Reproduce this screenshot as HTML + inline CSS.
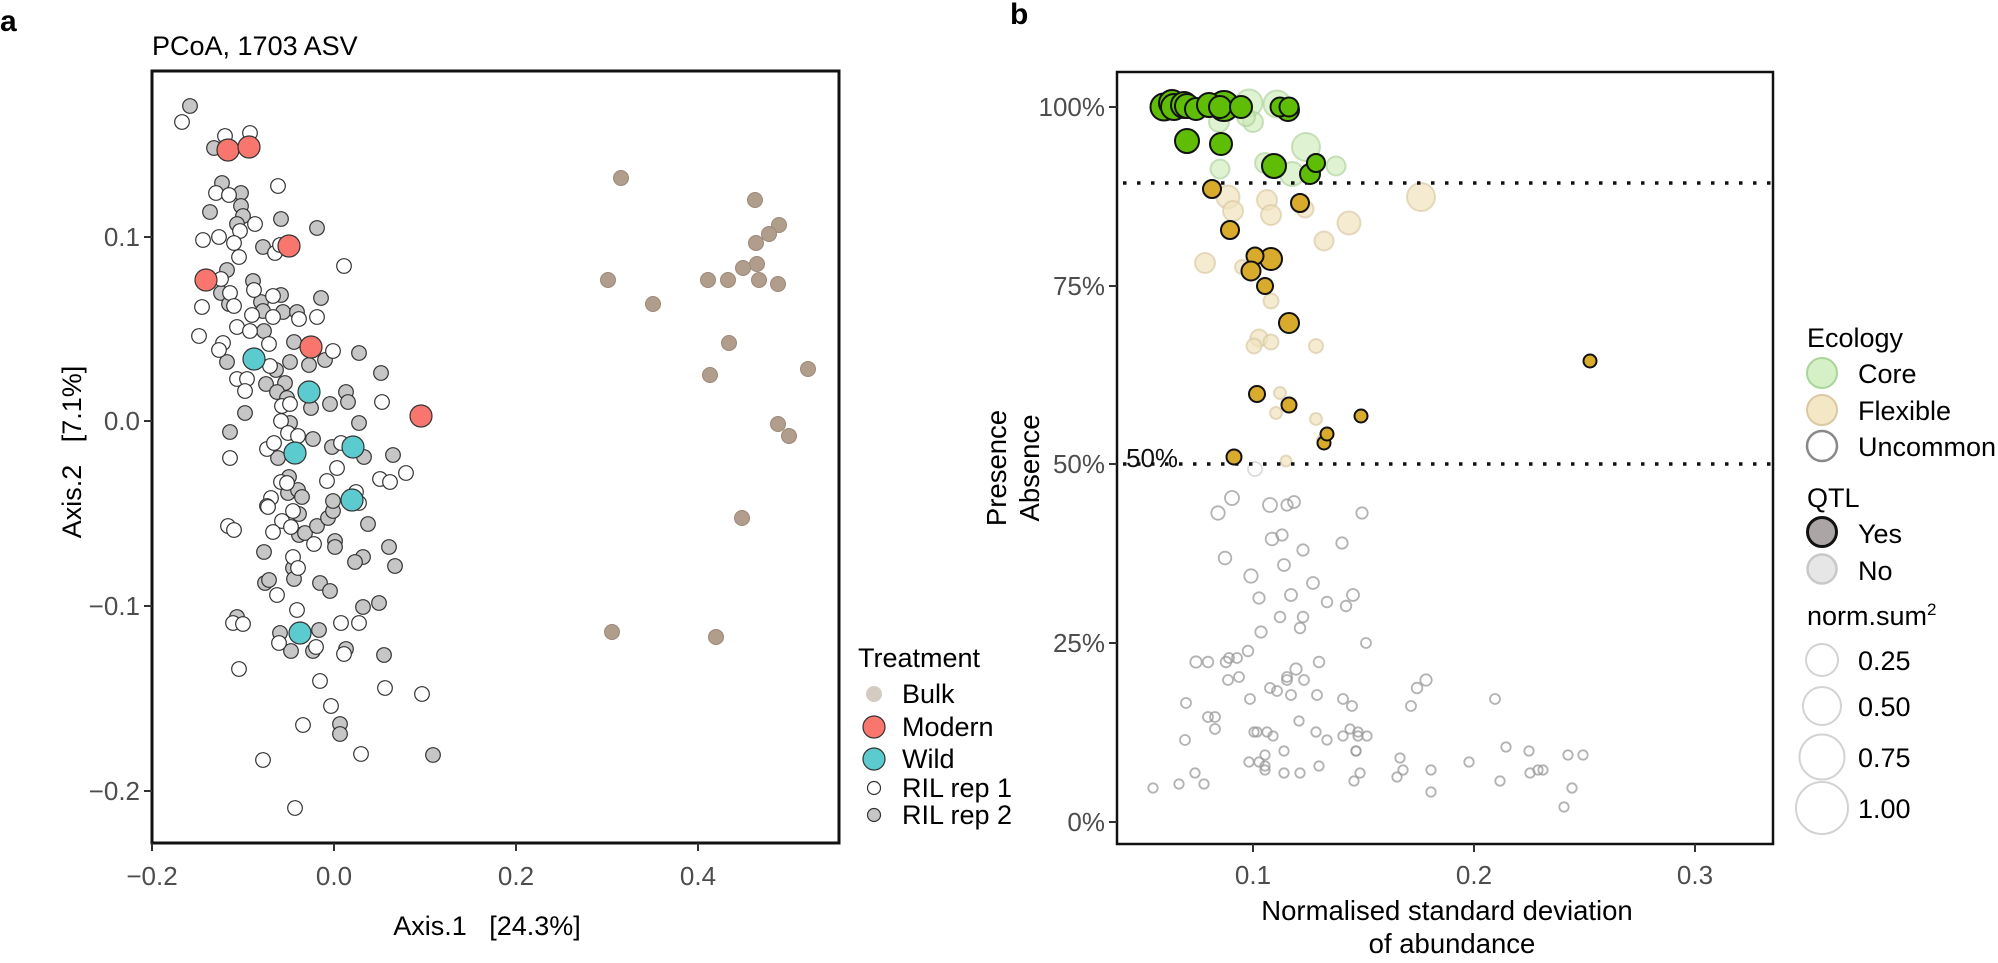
<!DOCTYPE html>
<html><head><meta charset="utf-8"><style>
html,body{margin:0;padding:0;background:#fff}
svg{display:block}
text{font-family:"Liberation Sans",Arial,sans-serif}
</style></head><body>
<svg width="1998" height="963" viewBox="0 0 1998 963" xmlns="http://www.w3.org/2000/svg">
<rect width="1998" height="963" fill="#fff"/>
<!-- Panel labels -->
<text x="0" y="31" font-size="30" font-weight="bold">a</text>
<text x="1010" y="24" font-size="30" font-weight="bold">b</text>
<text x="152" y="55" font-size="27">PCoA, 1703 ASV</text>

<!-- ===== Panel a ===== -->
<g fill="#c5c6c5" stroke="#333" stroke-width="1.2">
<circle cx="190" cy="106" r="7.3"/><circle cx="214" cy="148" r="7.3"/><circle cx="222" cy="183" r="7.3"/><circle cx="241" cy="193" r="7.3"/><circle cx="210" cy="212" r="7.3"/><circle cx="241" cy="206" r="7.3"/><circle cx="243" cy="216" r="7.3"/><circle cx="237" cy="224" r="7.3"/><circle cx="281" cy="219" r="7.3"/><circle cx="317" cy="228" r="7.3"/><circle cx="263" cy="247" r="7.3"/><circle cx="227" cy="270" r="7.3"/><circle cx="253" cy="281" r="7.3"/><circle cx="221" cy="293" r="7.3"/><circle cx="229" cy="304" r="7.3"/><circle cx="261" cy="302" r="7.3"/><circle cx="281" cy="295" r="7.3"/><circle cx="321" cy="298" r="7.3"/><circle cx="263" cy="311" r="7.3"/><circle cx="283" cy="312" r="7.3"/><circle cx="297" cy="312" r="7.3"/><circle cx="264" cy="331" r="7.3"/><circle cx="294" cy="342" r="7.3"/><circle cx="359" cy="353" r="7.3"/><circle cx="227" cy="362" r="7.3"/><circle cx="276" cy="370" r="7.3"/><circle cx="290" cy="362" r="7.3"/><circle cx="309" cy="365" r="7.3"/><circle cx="325" cy="360" r="7.3"/><circle cx="381" cy="373" r="7.3"/><circle cx="266" cy="384" r="7.3"/><circle cx="285" cy="383" r="7.3"/><circle cx="277" cy="392" r="7.3"/><circle cx="287" cy="398" r="7.3"/><circle cx="311" cy="408" r="7.3"/><circle cx="330" cy="404" r="7.3"/><circle cx="346" cy="392" r="7.3"/><circle cx="348" cy="402" r="7.3"/><circle cx="245" cy="413" r="7.3"/><circle cx="230" cy="432" r="7.3"/><circle cx="359" cy="423" r="7.3"/><circle cx="290" cy="423" r="7.3"/><circle cx="313" cy="439" r="7.3"/><circle cx="332" cy="447" r="7.3"/><circle cx="364" cy="457" r="7.3"/><circle cx="393" cy="455" r="7.3"/><circle cx="278" cy="458" r="7.3"/>
<circle cx="289" cy="477" r="7.3"/><circle cx="288" cy="493" r="7.3"/><circle cx="298" cy="490" r="7.3"/><circle cx="302" cy="497" r="7.3"/><circle cx="299" cy="514" r="7.3"/><circle cx="299" cy="535" r="7.3"/><circle cx="305" cy="533" r="7.3"/><circle cx="317" cy="526" r="7.3"/><circle cx="328" cy="518" r="7.3"/><circle cx="333" cy="511" r="7.3"/><circle cx="333" cy="501" r="7.3"/><circle cx="368" cy="524" r="7.3"/><circle cx="335" cy="541" r="7.3"/><circle cx="335" cy="547" r="7.3"/><circle cx="389" cy="547" r="7.3"/><circle cx="264" cy="552" r="7.3"/><circle cx="293" cy="568" r="7.3"/><circle cx="294" cy="579" r="7.3"/><circle cx="363" cy="557" r="7.3"/><circle cx="355" cy="562" r="7.3"/><circle cx="395" cy="566" r="7.3"/><circle cx="265" cy="583" r="7.3"/><circle cx="269" cy="580" r="7.3"/><circle cx="320" cy="583" r="7.3"/><circle cx="330" cy="591" r="7.3"/><circle cx="363" cy="607" r="7.3"/><circle cx="379" cy="603" r="7.3"/><circle cx="237" cy="617" r="7.3"/><circle cx="280" cy="633" r="7.3"/><circle cx="319" cy="630" r="7.3"/><circle cx="291" cy="651" r="7.3"/><circle cx="313" cy="651" r="7.3"/><circle cx="346" cy="649" r="7.3"/><circle cx="384" cy="655" r="7.3"/><circle cx="340" cy="724" r="7.3"/><circle cx="340" cy="734" r="7.3"/><circle cx="433" cy="755" r="7.3"/>
</g>
<g fill="#fff" stroke="#333" stroke-width="1.2">
<circle cx="182" cy="122" r="7.3"/><circle cx="225" cy="136" r="7.3"/><circle cx="250" cy="133" r="7.3"/><circle cx="216" cy="193" r="7.3"/><circle cx="229" cy="195" r="7.3"/><circle cx="278" cy="186" r="7.3"/><circle cx="255" cy="224" r="7.3"/><circle cx="240" cy="231" r="7.3"/><circle cx="203" cy="240" r="7.3"/><circle cx="219" cy="237" r="7.3"/><circle cx="234" cy="243" r="7.3"/><circle cx="239" cy="257" r="7.3"/><circle cx="275" cy="253" r="7.3"/><circle cx="280" cy="245" r="7.3"/><circle cx="344" cy="266" r="7.3"/><circle cx="221" cy="279" r="7.3"/><circle cx="254" cy="290" r="7.3"/><circle cx="230" cy="293" r="7.3"/><circle cx="234" cy="306" r="7.3"/><circle cx="202" cy="307" r="7.3"/><circle cx="273" cy="296" r="7.3"/><circle cx="252" cy="315" r="7.3"/><circle cx="273" cy="317" r="7.3"/><circle cx="299" cy="319" r="7.3"/><circle cx="317" cy="317" r="7.3"/><circle cx="237" cy="327" r="7.3"/><circle cx="250" cy="331" r="7.3"/><circle cx="199" cy="336" r="7.3"/><circle cx="223" cy="343" r="7.3"/><circle cx="219" cy="350" r="7.3"/><circle cx="269" cy="344" r="7.3"/><circle cx="333" cy="351" r="7.3"/><circle cx="270" cy="366" r="7.3"/><circle cx="237" cy="379" r="7.3"/><circle cx="247" cy="379" r="7.3"/><circle cx="245" cy="391" r="7.3"/><circle cx="282" cy="406" r="7.3"/><circle cx="290" cy="404" r="7.3"/><circle cx="382" cy="402" r="7.3"/><circle cx="281" cy="421" r="7.3"/><circle cx="288" cy="433" r="7.3"/><circle cx="298" cy="436" r="7.3"/><circle cx="267" cy="449" r="7.3"/><circle cx="274" cy="443" r="7.3"/><circle cx="341" cy="443" r="7.3"/><circle cx="230" cy="458" r="7.3"/>
<circle cx="337" cy="468" r="7.3"/><circle cx="327" cy="481" r="7.3"/><circle cx="380" cy="479" r="7.3"/><circle cx="390" cy="482" r="7.3"/><circle cx="406" cy="473" r="7.3"/><circle cx="281" cy="482" r="7.3"/><circle cx="287" cy="483" r="7.3"/><circle cx="271" cy="498" r="7.3"/><circle cx="267" cy="506" r="7.3"/><circle cx="268" cy="507" r="7.3"/><circle cx="293" cy="511" r="7.3"/><circle cx="282" cy="521" r="7.3"/><circle cx="291" cy="527" r="7.3"/><circle cx="273" cy="532" r="7.3"/><circle cx="356" cy="492" r="7.3"/><circle cx="359" cy="503" r="7.3"/><circle cx="228" cy="526" r="7.3"/><circle cx="234" cy="530" r="7.3"/><circle cx="314" cy="544" r="7.3"/><circle cx="293" cy="557" r="7.3"/><circle cx="298" cy="568" r="7.3"/><circle cx="277" cy="595" r="7.3"/><circle cx="297" cy="610" r="7.3"/><circle cx="233" cy="623" r="7.3"/><circle cx="243" cy="624" r="7.3"/><circle cx="341" cy="623" r="7.3"/><circle cx="359" cy="623" r="7.3"/><circle cx="279" cy="643" r="7.3"/><circle cx="316" cy="647" r="7.3"/><circle cx="344" cy="654" r="7.3"/><circle cx="239" cy="669" r="7.3"/><circle cx="320" cy="681" r="7.3"/><circle cx="385" cy="688" r="7.3"/><circle cx="422" cy="694" r="7.3"/><circle cx="331" cy="706" r="7.3"/><circle cx="303" cy="725" r="7.3"/><circle cx="263" cy="760" r="7.3"/><circle cx="361" cy="754" r="7.3"/><circle cx="295" cy="808" r="7.3"/>
</g>
<g fill="#f8766d" stroke="#333" stroke-width="1.2">
<circle cx="228" cy="150" r="11"/><circle cx="249" cy="147" r="11"/><circle cx="289" cy="246" r="11"/><circle cx="206" cy="280" r="11"/><circle cx="311" cy="347" r="11"/><circle cx="421" cy="416" r="11"/>
</g>
<g fill="#5ccbcf" stroke="#333" stroke-width="1.2">
<circle cx="254" cy="359" r="11"/><circle cx="309" cy="392" r="11"/><circle cx="353" cy="447" r="11"/><circle cx="295" cy="453" r="11"/><circle cx="352" cy="500" r="11"/><circle cx="300" cy="633" r="11"/>
</g>
<g fill="#b19d8b" stroke="#9c8878" stroke-width="1">
<circle cx="621" cy="178" r="7.5"/><circle cx="755" cy="200" r="7.5"/><circle cx="779" cy="225" r="7.5"/><circle cx="769" cy="234" r="7.5"/><circle cx="756" cy="243" r="7.5"/><circle cx="757" cy="264" r="7.5"/><circle cx="743" cy="268" r="7.5"/><circle cx="608" cy="280" r="7.5"/><circle cx="708" cy="280" r="7.5"/><circle cx="728" cy="280" r="7.5"/><circle cx="759" cy="280" r="7.5"/><circle cx="778" cy="284" r="7.5"/><circle cx="653" cy="304" r="7.5"/><circle cx="729" cy="343" r="7.5"/><circle cx="710" cy="375" r="7.5"/><circle cx="808" cy="369" r="7.5"/><circle cx="778" cy="424" r="7.5"/><circle cx="789" cy="436" r="7.5"/><circle cx="742" cy="518" r="7.5"/><circle cx="612" cy="632" r="7.5"/><circle cx="716" cy="637" r="7.5"/>
</g>
<rect x="152" y="71" width="687" height="772" fill="none" stroke="#111" stroke-width="3"/>
<g stroke="#333" stroke-width="2">
<line x1="152" y1="843" x2="152" y2="851"/><line x1="334" y1="843" x2="334" y2="851"/><line x1="516" y1="843" x2="516" y2="851"/><line x1="698" y1="843" x2="698" y2="851"/>
<line x1="144" y1="237" x2="152" y2="237"/><line x1="144" y1="421" x2="152" y2="421"/><line x1="144" y1="606" x2="152" y2="606"/><line x1="144" y1="791" x2="152" y2="791"/>
</g>
<g font-size="26" fill="#4d4d4d" text-anchor="middle">
<text x="152" y="885">−0.2</text><text x="334" y="885">0.0</text><text x="516" y="885">0.2</text><text x="698" y="885">0.4</text>
</g>
<g font-size="26" fill="#4d4d4d" text-anchor="end">
<text x="140" y="246">0.1</text><text x="140" y="430">0.0</text><text x="140" y="615">−0.1</text><text x="140" y="800">−0.2</text>
</g>
<text x="487" y="935" font-size="27" text-anchor="middle">Axis.1&#160;&#160;&#160;[24.3%]</text>
<text transform="translate(81,452) rotate(-90)" font-size="27" text-anchor="middle">Axis.2&#160;&#160;&#160;[7.1%]</text>

<!-- Legend a -->
<text x="858" y="667" font-size="27">Treatment</text>
<circle cx="874" cy="694" r="8" fill="#d4cbc1"/>
<circle cx="874" cy="727" r="11" fill="#f8766d" stroke="#333" stroke-width="1.2"/>
<circle cx="874" cy="759" r="11" fill="#5ccbcf" stroke="#333" stroke-width="1.2"/>
<circle cx="874" cy="788" r="6.5" fill="#fff" stroke="#333" stroke-width="1.2"/>
<circle cx="874" cy="815" r="6.5" fill="#c5c6c5" stroke="#333" stroke-width="1.2"/>
<g font-size="27">
<text x="902" y="703">Bulk</text><text x="902" y="736">Modern</text><text x="902" y="768">Wild</text><text x="902" y="797">RIL rep 1</text><text x="902" y="824">RIL rep 2</text>
</g>

<!-- ===== Panel b ===== -->
<!-- light core -->
<g fill="#c9e9b3" fill-opacity="0.6" stroke="#a9cf98" stroke-opacity="0.6" stroke-width="2">
<circle cx="1249" cy="103" r="13.5"/><circle cx="1277" cy="104" r="13.5"/><circle cx="1253" cy="122" r="10"/><circle cx="1246" cy="117" r="9"/><circle cx="1219" cy="122" r="10"/><circle cx="1306" cy="147" r="14"/><circle cx="1265" cy="163" r="10"/><circle cx="1292" cy="174" r="12"/><circle cx="1336" cy="166" r="9.5"/><circle cx="1220" cy="169" r="9.5"/>
</g>
<!-- light flexible -->
<g fill="#f1e2bd" fill-opacity="0.7" stroke="#d6c59e" stroke-opacity="0.6" stroke-width="2">
<circle cx="1228" cy="197" r="11.5"/><circle cx="1233" cy="211" r="10"/><circle cx="1267" cy="200" r="10"/><circle cx="1271" cy="215" r="10"/><circle cx="1305" cy="209" r="8.5"/><circle cx="1349" cy="223" r="11.5"/><circle cx="1324" cy="241" r="9.5"/><circle cx="1421" cy="197" r="14"/><circle cx="1205" cy="263" r="10"/><circle cx="1242" cy="267" r="7"/><circle cx="1271" cy="301" r="7.5"/><circle cx="1259" cy="338" r="8.5"/><circle cx="1254" cy="346" r="7.5"/><circle cx="1271" cy="342" r="7.5"/><circle cx="1316" cy="346" r="7"/><circle cx="1280" cy="393" r="6"/><circle cx="1276" cy="413" r="6"/><circle cx="1316" cy="419" r="6"/><circle cx="1322" cy="440" r="5"/><circle cx="1286" cy="461" r="5.5"/>
</g>
<!-- uncommon -->
<g fill="none" stroke="#9a9a9a" stroke-opacity="0.75" stroke-width="1.8">
<circle cx="1255" cy="469" r="7" stroke-opacity="0.35"/>
<circle cx="1232" cy="498" r="7"/><circle cx="1218" cy="513" r="6.7"/><circle cx="1270" cy="505" r="7"/><circle cx="1287" cy="505" r="5.7"/><circle cx="1294" cy="502" r="6"/><circle cx="1362" cy="513" r="5.7"/><circle cx="1272" cy="539" r="6.3"/><circle cx="1282" cy="535" r="5.7"/><circle cx="1342" cy="543" r="5.7"/><circle cx="1303" cy="550" r="5.7"/><circle cx="1225" cy="558" r="6.3"/><circle cx="1284" cy="565" r="6"/><circle cx="1251" cy="576" r="6.7"/><circle cx="1313" cy="583" r="6"/><circle cx="1259" cy="598" r="5.7"/><circle cx="1291" cy="595" r="6"/><circle cx="1327" cy="602" r="5.3"/><circle cx="1353" cy="595" r="6"/><circle cx="1346" cy="606" r="5.3"/><circle cx="1280" cy="617" r="5.3"/><circle cx="1303" cy="617" r="5.3"/><circle cx="1300" cy="628" r="5.3"/><circle cx="1261" cy="632" r="5.7"/><circle cx="1366" cy="643" r="5"/><circle cx="1248" cy="651" r="5.3"/><circle cx="1196" cy="662" r="5.7"/><circle cx="1208" cy="662" r="5.3"/><circle cx="1226" cy="662" r="5.3"/><circle cx="1229" cy="658" r="5"/><circle cx="1237" cy="658" r="5"/><circle cx="1319" cy="662" r="5.3"/><circle cx="1296" cy="669" r="5.7"/><circle cx="1287" cy="677" r="5"/><circle cx="1287" cy="680" r="5"/><circle cx="1304" cy="680" r="5"/><circle cx="1228" cy="680" r="5"/><circle cx="1239" cy="677" r="5"/><circle cx="1426" cy="680" r="5.7"/><circle cx="1417" cy="688" r="5.3"/><circle cx="1411" cy="706" r="5"/><circle cx="1495" cy="699" r="5"/><circle cx="1186" cy="703" r="5"/><circle cx="1270" cy="688" r="5"/><circle cx="1277" cy="691" r="5"/><circle cx="1250" cy="699" r="5"/><circle cx="1291" cy="695" r="5"/><circle cx="1317" cy="695" r="5"/><circle cx="1343" cy="699" r="5"/><circle cx="1352" cy="706" r="5"/><circle cx="1208" cy="717" r="5"/><circle cx="1215" cy="717" r="5"/><circle cx="1215" cy="729" r="5"/><circle cx="1299" cy="721" r="4.7"/><circle cx="1185" cy="740" r="5"/><circle cx="1254" cy="732" r="4.7"/><circle cx="1257" cy="732" r="4.7"/><circle cx="1267" cy="732" r="4.7"/><circle cx="1273" cy="736" r="4.7"/><circle cx="1316" cy="732" r="4.7"/><circle cx="1327" cy="740" r="4.7"/><circle cx="1343" cy="736" r="4.7"/><circle cx="1350" cy="729" r="4.7"/><circle cx="1358" cy="732" r="4.7"/><circle cx="1358" cy="736" r="4.7"/><circle cx="1367" cy="736" r="4.7"/><circle cx="1356" cy="751" r="4.7"/><circle cx="1356" cy="751" r="4.7"/><circle cx="1284" cy="751" r="4.7"/><circle cx="1265" cy="755" r="4.7"/><circle cx="1249" cy="762" r="4.7"/><circle cx="1259" cy="762" r="4.7"/><circle cx="1265" cy="766" r="4.7"/><circle cx="1265" cy="770" r="4.7"/><circle cx="1319" cy="766" r="4.7"/><circle cx="1284" cy="773" r="4.7"/><circle cx="1300" cy="773" r="4.7"/><circle cx="1195" cy="773" r="4.7"/><circle cx="1179" cy="784" r="4.7"/><circle cx="1204" cy="784" r="4.7"/><circle cx="1153" cy="788" r="4.7"/><circle cx="1360" cy="773" r="4.7"/><circle cx="1354" cy="781" r="4.7"/><circle cx="1400" cy="758" r="4.7"/><circle cx="1403" cy="770" r="4.7"/><circle cx="1397" cy="777" r="4.7"/><circle cx="1431" cy="770" r="4.7"/><circle cx="1431" cy="792" r="4.7"/><circle cx="1469" cy="762" r="4.7"/><circle cx="1506" cy="747" r="4.7"/><circle cx="1500" cy="781" r="4.7"/><circle cx="1529" cy="751" r="4.7"/><circle cx="1530" cy="773" r="4.7"/><circle cx="1538" cy="770" r="4.7"/><circle cx="1543" cy="770" r="4.7"/><circle cx="1568" cy="755" r="4.7"/><circle cx="1583" cy="755" r="4.7"/><circle cx="1572" cy="788" r="4.7"/><circle cx="1564" cy="807" r="4.7"/>
</g>
<!-- dotted lines -->
<g stroke="#111" stroke-width="3.5" stroke-dasharray="3.5 10.5">
<line x1="1123" y1="183" x2="1773" y2="183"/>
<line x1="1123" y1="464" x2="1773" y2="464"/>
</g>
<text x="1126" y="467" font-size="26" fill="#111">50%</text>
<!-- QTL core -->
<g fill="#5fbd05" stroke="#111" stroke-width="2">
<circle cx="1164" cy="107" r="13.5"/><circle cx="1172" cy="103" r="13"/><circle cx="1174" cy="107" r="13"/><circle cx="1184" cy="105" r="13"/><circle cx="1187" cy="106" r="12"/><circle cx="1196" cy="109" r="11"/><circle cx="1224" cy="106" r="15"/><circle cx="1209" cy="105" r="12"/><circle cx="1220" cy="107" r="11"/><circle cx="1241" cy="107" r="11"/><circle cx="1288" cy="110" r="11"/><circle cx="1280" cy="107" r="9.5"/><circle cx="1289" cy="107" r="9.5"/><circle cx="1187" cy="141" r="12"/><circle cx="1221" cy="144" r="11"/><circle cx="1274" cy="166" r="12"/><circle cx="1310" cy="174" r="10"/><circle cx="1316" cy="163" r="9"/>
</g>
<!-- QTL flexible -->
<g fill="#d8ab2d" stroke="#111" stroke-width="2">
<circle cx="1212" cy="189" r="9"/><circle cx="1300" cy="203" r="9"/><circle cx="1230" cy="230" r="9"/><circle cx="1271" cy="259" r="11"/><circle cx="1255" cy="256" r="8.5"/><circle cx="1251" cy="271" r="9.5"/><circle cx="1265" cy="286" r="8"/><circle cx="1289" cy="323" r="10"/><circle cx="1257" cy="394" r="8"/><circle cx="1289" cy="405" r="7.5"/><circle cx="1361" cy="416" r="6.5"/><circle cx="1324" cy="443" r="6.5"/><circle cx="1327" cy="434" r="6.5"/><circle cx="1234" cy="457" r="7.5"/><circle cx="1590" cy="361" r="6.5"/>
</g>
<rect x="1117" y="72" width="656" height="772" fill="none" stroke="#111" stroke-width="2.5"/>
<g stroke="#333" stroke-width="2">
<line x1="1253" y1="844" x2="1253" y2="852"/><line x1="1474" y1="844" x2="1474" y2="852"/><line x1="1695" y1="844" x2="1695" y2="852"/>
<line x1="1109" y1="107" x2="1117" y2="107"/><line x1="1109" y1="286" x2="1117" y2="286"/><line x1="1109" y1="464" x2="1117" y2="464"/><line x1="1109" y1="643" x2="1117" y2="643"/><line x1="1109" y1="822" x2="1117" y2="822"/>
</g>
<g font-size="26" fill="#4d4d4d" text-anchor="middle">
<text x="1253" y="884">0.1</text><text x="1474" y="884">0.2</text><text x="1695" y="884">0.3</text>
</g>
<g font-size="26" fill="#4d4d4d" text-anchor="end">
<text x="1105" y="116">100%</text><text x="1105" y="295">75%</text><text x="1105" y="473">50%</text><text x="1105" y="652">25%</text><text x="1105" y="831">0%</text>
</g>
<g font-size="27.5" text-anchor="middle">
<text x="1447" y="920">Normalised standard deviation</text>
<text x="1452" y="953">of abundance</text>
</g>
<text transform="translate(1006,468) rotate(-90)" font-size="27.5" text-anchor="middle">Presence</text>
<text transform="translate(1039,468) rotate(-90)" font-size="27.5" text-anchor="middle">Absence</text>

<!-- Legend b -->
<g font-size="27">
<text x="1807" y="347">Ecology</text>
<text x="1858" y="383">Core</text>
<text x="1858" y="420">Flexible</text>
<text x="1858" y="456">Uncommon</text>
<text x="1807" y="507">QTL</text>
<text x="1858" y="543">Yes</text>
<text x="1858" y="580">No</text>
<text x="1807" y="625">norm.sum<tspan font-size="17" dy="-10">2</tspan></text>
<text x="1858" y="670">0.25</text>
<text x="1858" y="716">0.50</text>
<text x="1858" y="767">0.75</text>
<text x="1858" y="818">1.00</text>
</g>
<circle cx="1822" cy="373" r="15" fill="#d5efc6" stroke="#aad59a" stroke-width="2"/>
<circle cx="1822" cy="410" r="15" fill="#f4e7c6" stroke="#d9c9a3" stroke-width="2"/>
<circle cx="1822" cy="446" r="15" fill="#fff" stroke="#888" stroke-width="2.5"/>
<circle cx="1822" cy="532" r="14.5" fill="#aba5a5" stroke="#111" stroke-width="3"/>
<circle cx="1822" cy="569" r="14.5" fill="#e6e6e6" stroke="#c8c8c8" stroke-width="2.5"/>
<g fill="none" stroke="#d3d3d3" stroke-width="2">
<circle cx="1822" cy="660" r="16"/>
<circle cx="1822" cy="706" r="19"/>
<circle cx="1822" cy="757" r="22.5"/>
<circle cx="1822" cy="808" r="26"/>
</g>
</svg>
</body></html>
